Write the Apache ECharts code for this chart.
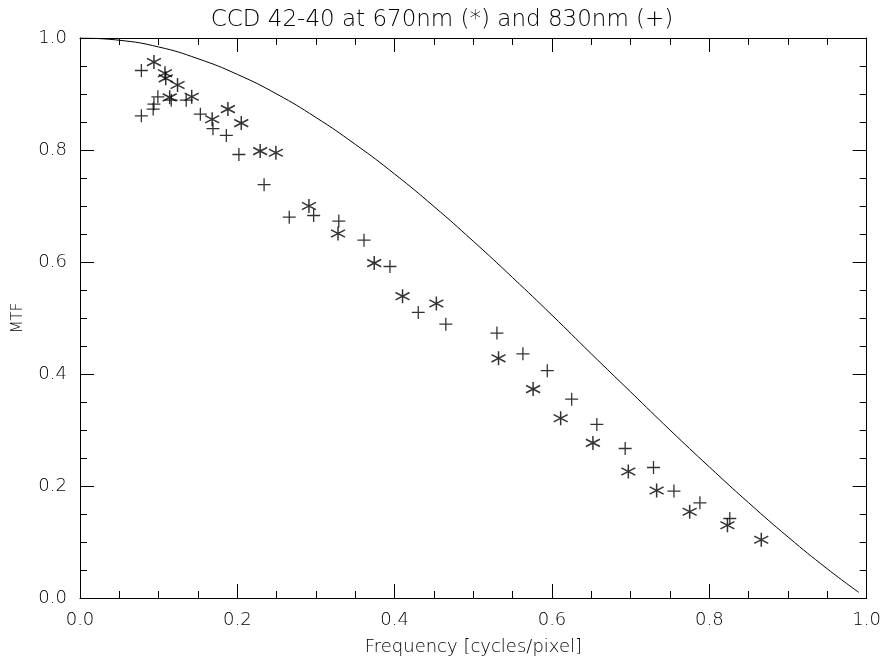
<!DOCTYPE html>
<html>
<head>
<meta charset="utf-8">
<script src="https://cdn.jsdelivr.net/npm/echarts@6/dist/echarts.min.js"></script>
<style>
  html, body { margin: 0; padding: 0; background: #fff; }
  #chart { width: 884px; height: 662px; }
</style>
</head>
<body>
<div id="chart"></div>
<script>
  // model curve, every 0.05
  const curveFreq = [0, 0.05, 0.1, 0.15, 0.2, 0.25, 0.3, 0.35, 0.4, 0.45, 0.5,
    0.55, 0.6, 0.65, 0.7, 0.75, 0.8, 0.85, 0.9, 0.95, 0.99];
  const curveMtf = [1.0, 0.996, 0.984, 0.963, 0.935, 0.900, 0.858, 0.810, 0.757, 0.699, 0.637,
    0.572, 0.505, 0.436, 0.368, 0.300, 0.234, 0.170, 0.109, 0.052, 0.01];

  // 670nm measurements (*)
  const freq670 = [0.094, 0.108, 0.109, 0.124, 0.114, 0.142, 0.168, 0.188, 0.205, 0.229, 0.249,
    0.291, 0.328, 0.374, 0.410, 0.453, 0.532, 0.576, 0.611, 0.652, 0.697, 0.733, 0.775, 0.823, 0.866];
  const mtf670 = [0.957, 0.937, 0.928, 0.916, 0.894, 0.895, 0.855, 0.873, 0.848, 0.798, 0.795,
    0.700, 0.651, 0.598, 0.539, 0.526, 0.428, 0.373, 0.321, 0.277, 0.226, 0.192, 0.154, 0.130, 0.104];

  // 830nm measurements (+)
  const freq830 = [0.078, 0.078, 0.093, 0.094, 0.099, 0.116, 0.135, 0.153, 0.169, 0.186, 0.202, 0.234,
    0.266, 0.297, 0.329, 0.361, 0.394, 0.430, 0.465, 0.530, 0.563, 0.594, 0.625, 0.657,
    0.693, 0.729, 0.755, 0.788, 0.826];
  const mtf830 = [0.942, 0.861, 0.873, 0.882, 0.895, 0.889, 0.889, 0.864, 0.838, 0.826, 0.792, 0.738,
    0.680, 0.683, 0.673, 0.639, 0.592, 0.510, 0.489, 0.473, 0.436, 0.406, 0.355, 0.310,
    0.267, 0.233, 0.191, 0.170, 0.142];

  const xTicks = ['0.0', '0.2', '0.4', '0.6', '0.8', '1.0'];

  const FONT = 'DejaVu Sans';
  const TXT = '#000';
  const plusPath = 'path://M0,5 L10,5 M5,0 L5,10';
  const starPath = 'path://M5,0 L5,10 M0.5,2.4 L9.5,7.6 M0.5,7.6 L9.5,2.4';

  const zip = (a, b) => a.map((v, i) => [v, b[i]]);

  const chart = echarts.init(document.getElementById('chart'));

  function axisCommon(showLabel) {
    return {
      type: 'value',
      min: 0,
      max: 1,
      interval: 0.2,
      axisLine: {show: true, onZero: false, lineStyle: {color: '#000', width: 1}},
      axisTick: {show: true, inside: true, length: 14, lineStyle: {color: '#000'}},
      minorTick: {show: true, splitNumber: 4, length: 7, lineStyle: {color: '#000'}},
      splitLine: {show: false},
      axisLabel: {
        show: showLabel,
        margin: 13,
        fontFamily: FONT,
        fontSize: 18,
        fontWeight: 200,
        color: TXT,
        formatter: v => xTicks[Math.round(v / 0.2)]
      }
    };
  }

  const option = {
    backgroundColor: '#fff',
    animation: false,
    title: {
      text: 'CCD 42-40 at 670nm (*) and 830nm (+)',
      left: 'center',
      top: 4,
      textStyle: {fontFamily: FONT, fontSize: 23, fontWeight: 200, color: TXT}
    },
    grid: {left: 80, right: 17, top: 38, bottom: 64},
    xAxis: [
      Object.assign(axisCommon(true), {
        position: 'bottom',
        name: 'Frequency [cycles/pixel]',
        nameLocation: 'middle',
        nameGap: 40,
        nameTextStyle: {fontFamily: FONT, fontSize: 18, fontWeight: 200, color: TXT}
      }),
      Object.assign(axisCommon(false), {position: 'top'})
    ],
    yAxis: [
      Object.assign(axisCommon(true), {
        position: 'left',
        name: 'MTF',
        nameLocation: 'middle',
        nameGap: 54,
        nameRotate: 90,
        nameTextStyle: {fontFamily: FONT, fontSize: 15, fontWeight: 200, color: TXT}
      }),
      Object.assign(axisCommon(false), {position: 'right'})
    ],
    series: [
      {
        type: 'line',
        data: zip(curveFreq, curveMtf),
        smooth: true,
        showSymbol: false,
        lineStyle: {color: '#000', width: 1}
      },
      {
        type: 'scatter',
        data: zip(freq670, mtf670),
        symbol: starPath,
        symbolSize: 14,
        itemStyle: {color: 'none', borderColor: '#000', borderWidth: 1.5}
      },
      {
        type: 'scatter',
        data: zip(freq830, mtf830),
        symbol: plusPath,
        symbolSize: 13,
        itemStyle: {color: 'none', borderColor: '#000', borderWidth: 1.3}
      }
    ]
  };

  chart.setOption(option);
</script>
</body>
</html>
